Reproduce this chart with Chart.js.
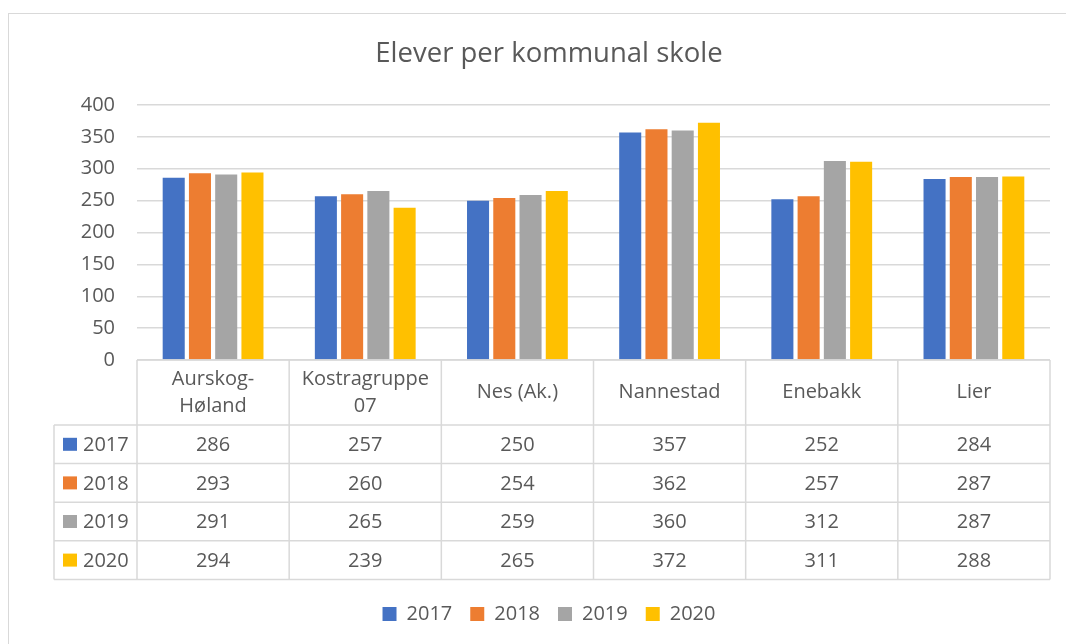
<!DOCTYPE html>
<html>
<head>
<meta charset="utf-8">
<script src="https://cdn.jsdelivr.net/npm/chart.js@4.4.1/dist/chart.umd.min.js"></script>
<style>
  html, body { margin: 0; padding: 0; background: #fff; overflow: hidden; }
  #frame { position: absolute; left: 8px; top: 13px; width: 1100px; height: 700px; border: 1.5px solid #d9d9d9; }
  #c { position: absolute; left: 0; top: 0; }
</style>
</head>
<body>
<div id="frame"></div>
<canvas id="c" width="1066" height="644"></canvas>
<script>
// data
const categories = [["Aurskog-", "Høland"], ["Kostragruppe", "07"], ["Nes (Ak.)"], ["Nannestad"], ["Enebakk"], ["Lier"]];
const years = ["2017", "2018", "2019", "2020"];
const v2017 = [286, 257, 250, 357, 252, 284];
const v2018 = [293, 260, 254, 362, 257, 287];
const v2019 = [291, 265, 259, 360, 312, 287];
const v2020 = [294, 239, 265, 372, 311, 288];
const colors = ["#4472c4", "#ed7d31", "#a5a5a5", "#ffc000"];

const textColor = "#595959";
const lineColor = "#d9d9d9";
Chart.defaults.font.family = "'Open Sans', Lato, sans-serif";
Chart.defaults.color = textColor;

// draws the Excel-style data table under the plot, using the x scale's columns
const dataTable = {
  id: "dataTable",
  afterDraw(chart) {
    const { ctx, chartArea: a, scales: { x } } = chart;
    const sets = chart.data.datasets;
    const colW = (a.right - a.left) / categories.length;
    const headH = 65, rowH = 38.6, leftX = 54;
    const top = a.bottom;
    const bottom = top + headH + sets.length * rowH;

    ctx.save();
    ctx.strokeStyle = lineColor;
    ctx.lineWidth = 1.5;
    const line = (x1, y1, x2, y2) => { ctx.beginPath(); ctx.moveTo(x1, y1); ctx.lineTo(x2, y2); ctx.stroke(); };
    line(a.left, top, a.right, top);
    for (let r = 0; r <= sets.length; r++) {
      const y = top + headH + r * rowH;
      line(leftX, y, a.right, y);
    }
    line(leftX, top + headH, leftX, bottom);
    for (let c = 0; c <= categories.length; c++) {
      const xx = a.left + c * colW;
      line(xx, top, xx, bottom);
    }

    ctx.fillStyle = textColor;
    ctx.font = "20px " + Chart.defaults.font.family;
    ctx.textAlign = "center";
    ctx.textBaseline = "middle";
    categories.forEach((lab, i) => {
      const cx = x.getPixelForValue(i);
      const lh = 27;
      const y0 = top + headH / 2 - (lab.length - 1) * lh / 2;
      lab.forEach((t, k) => ctx.fillText(t, cx, y0 + k * lh));
    });

    sets.forEach((ds, r) => {
      const cy = top + headH + r * rowH + rowH / 2;
      ctx.fillStyle = ds.backgroundColor;
      ctx.fillRect(63, cy - 6.5, 14, 13);
      ctx.fillStyle = textColor;
      ctx.textAlign = "left";
      ctx.fillText(ds.label, 83, cy + 1);
      ctx.textAlign = "center";
      ds.data.forEach((v, i) => ctx.fillText(String(v), x.getPixelForValue(i), cy + 1));
    });
    ctx.restore();
  }
};

new Chart(document.getElementById("c"), {
  type: "bar",
  data: {
    labels: categories.map(l => l.join(" ")),
    datasets: [v2017, v2018, v2019, v2020].map((d, i) => ({
      label: years[i],
      data: d,
      backgroundColor: colors[i],
      categoryPercentage: 0.69,
      barPercentage: 0.84
    }))
  },
  options: {
    responsive: false,
    animation: false,
    layout: { padding: { left: 48, right: 16, top: 0, bottom: 10 } },
    plugins: {
      title: {
        display: true,
        text: "Elever per kommunal skole",
        color: textColor,
        font: { size: 27.5, weight: "normal" },
        padding: { top: 38, bottom: 34 }
      },
      legend: {
        position: "bottom",
        labels: { boxWidth: 14, boxHeight: 14, padding: 18, font: { size: 20 }, color: textColor }
      },
      tooltip: { enabled: false }
    },
    scales: {
      x: {
        grid: { display: false },
        border: { display: false },
        ticks: { display: false },
        afterFit(s) { s.height = 226; }
      },
      y: {
        min: 0,
        max: 400,
        ticks: { stepSize: 50, padding: 22, font: { size: 20 }, color: textColor },
        grid: { color: lineColor, lineWidth: 1.5, drawTicks: false },
        border: { display: false },
        afterFit(s) { s.width = 89; }
      }
    }
  },
  plugins: [dataTable]
});
</script>
</body>
</html>
